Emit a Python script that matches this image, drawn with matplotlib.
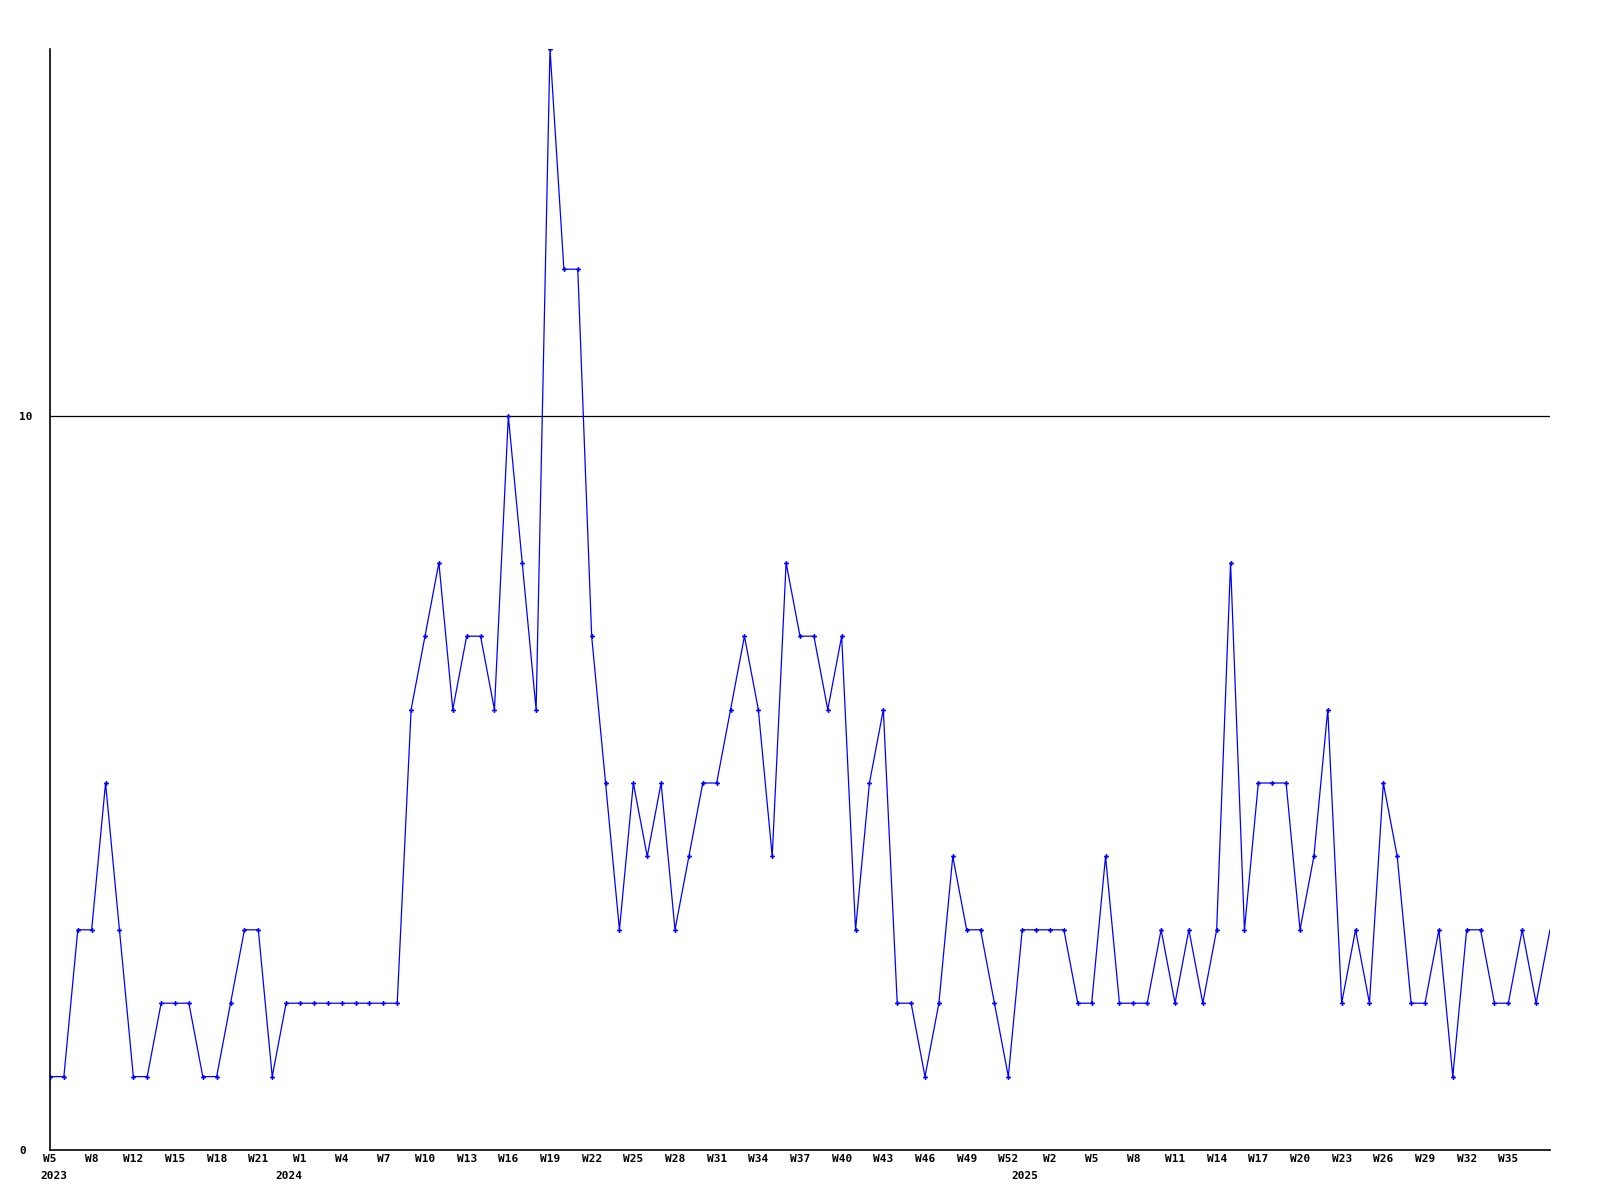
import matplotlib
matplotlib.use("Agg")
from matplotlib import pyplot as plt

# weekly counts, one point per week that has data
g_values = [1, 1, 3, 3, 5, 3, 1, 1, 2, 2, 2, 1, 1, 2, 3, 3, 1, 2, 2, 2,
            2, 2, 2, 2, 2, 2, 6, 7, 8, 6, 7, 7, 6, 10, 8, 6, 15, 12, 12, 7,
            5, 3, 5, 4, 5, 3, 4, 5, 5, 6, 7, 6, 4, 8, 7, 7, 6, 7, 3, 5,
            6, 2, 2, 1, 2, 4, 3, 3, 2, 1, 3, 3, 3, 3, 2, 2, 4, 2, 2, 2,
            3, 2, 3, 2, 3, 8, 3, 5, 5, 5, 3, 4, 6, 2, 3, 2, 5, 4, 2, 2,
            3, 1, 3, 3, 2, 2, 3, 2, 3]

# every third point gets a week label
g_weekLabels = ["W5", "W8", "W12", "W15", "W18", "W21", "W1", "W4", "W7",
                "W10", "W13", "W16", "W19", "W22", "W25", "W28", "W31", "W34",
                "W37", "W40", "W43", "W46", "W49", "W52", "W2", "W5", "W8",
                "W11", "W14", "W17", "W20", "W23", "W26", "W29", "W32", "W35"]

g_years = ["2023", "2024", "2025"]
g_yearPos = [0.25, 17.2, 70.2]

FONT = dict(family="DejaVu Sans Mono", fontweight="bold", fontsize=8)

fig = plt.figure(figsize=(16, 12), dpi=100)
ax = fig.add_axes([50 / 1600., 50 / 1200., 1500 / 1600., 1101 / 1200.])

ind = list(range(len(g_values)))
ax.plot(ind, g_values, color="#0000ff", linewidth=0.9, marker="P",
        markersize=3.5, markeredgewidth=0, markevery=ind[:-1], clip_on=True)

ax.set_xlim(0, len(g_values) - 1)
ax.set_ylim(0, 15)

ax.set_yticks([0, 10])
ax.set_yticklabels(["0", "10"], ha="left", **FONT)
ax.axhline(10, color="black", linewidth=0.9, zorder=0)

ax.set_xticks(ind[::3][:len(g_weekLabels)])
ax.set_xticklabels(g_weekLabels, **FONT)
ax.tick_params(axis="both", length=0)
ax.tick_params(axis="y", pad=22)
ax.tick_params(axis="x", pad=3)

for year, pos in zip(g_years, g_yearPos):
    ax.annotate(year, xy=(pos, 0), xycoords=("data", "axes fraction"),
                xytext=(0, -21), textcoords="offset pixels",
                ha="center", va="top", **FONT)

for side in ("top", "right"):
    ax.spines[side].set_visible(False)
for side in ("left", "bottom"):
    ax.spines[side].set_linewidth(1.2)
    ax.spines[side].set_color("black")

fig.savefig("out.png", dpi=100)
